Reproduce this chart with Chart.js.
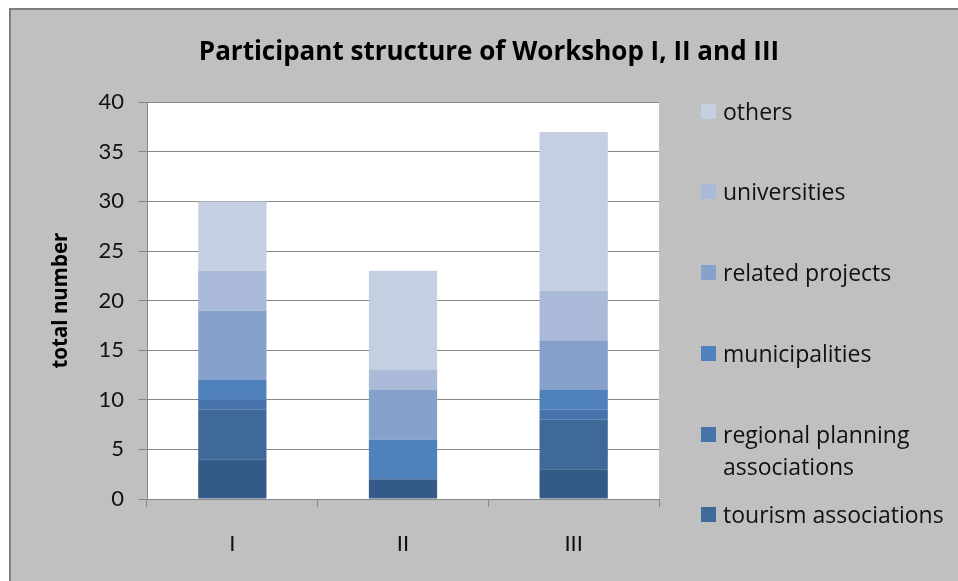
<!DOCTYPE html>
<html>
<head>
<meta charset="utf-8">
<script src="https://cdn.jsdelivr.net/npm/chart.js@4"></script>
<style>
  body { margin: 0; background: #fff; }
  #frame { position: absolute; left: 9px; top: 8px; width: 949px; height: 573px; background: #c0c0c0;
           border-left: 2px solid #7f7f7f; border-top: 2px solid #7f7f7f; box-sizing: border-box; }
  #wrap { position: absolute; left: 0; top: 0; width: 958px; height: 581px; }
  #legend { position: absolute; left: 0; top: 0; font-family: 'Open Sans', sans-serif; font-size: 23px; color: #111; }
  .item { position: absolute; left: 723px; width: 232px; line-height: 32px; }
  .sw { position: absolute; left: -22px; top: 9px; width: 15px; height: 15px; }
</style>
</head>
<body>
<div id="frame"></div>
<div id="wrap"><canvas id="chart" width="958" height="581"></canvas></div>
<div id="legend"></div>
<script>
const categories = ['I', 'II', 'III'];
const seriesNames = ['(not in legend)', 'tourism associations', 'regional planning associations',
                     'municipalities', 'related projects', 'universities', 'others'];
const notInLegend = [4, 2, 3];
const tourism = [5, 0, 5];
const regionalPlanning = [1, 0, 1];
const municipalities = [2, 4, 2];
const relatedProjects = [7, 5, 5];
const universities = [4, 2, 5];
const others = [7, 10, 16];
const yTicks = [0, 5, 10, 15, 20, 25, 30, 35, 40];

const seriesValues = [notInLegend, tourism, regionalPlanning, municipalities, relatedProjects, universities, others];
const seriesColors = ['#345a88', '#3e6999', '#4673aa', '#4f81bd', '#86a1cb', '#aabad8', '#c4d0e2'];

// legend line-1 centres, top item first
const legendY = [111, 191, 272, 353, 434, 514];

const font = { family: 'Lato', size: 22 };
const gridColor = '#888';

const plotBg = {
  id: 'plotBg',
  beforeDraw(chart) {
    const a = chart.chartArea;
    chart.ctx.save();
    chart.ctx.fillStyle = '#fff';
    chart.ctx.fillRect(a.left, a.top, a.right - a.left, a.bottom - a.top);
    chart.ctx.restore();
  }
};

const chart = new Chart(document.getElementById('chart'), {
  type: 'bar',
  data: {
    labels: categories,
    datasets: seriesValues.map((vals, i) => ({
      label: seriesNames[i],
      data: vals,
      backgroundColor: seriesColors[i],
      borderWidth: 0,
      categoryPercentage: 1,
      barPercentage: 0.4
    }))
  },
  options: {
    responsive: false,
    animation: false,
    layout: { padding: { left: 20 } },
    plugins: {
      legend: { display: false },
      tooltip: { enabled: false },
      title: {
        display: true,
        text: 'Participant structure of Workshop I, II and III',
        color: '#000',
        font: { family: 'Open Sans', size: 26, weight: 'bold' },
        padding: { top: 37, bottom: 34 }
      }
    },
    scales: {
      x: {
        stacked: true,
        offset: true,
        grid: { display: true, offset: true, drawOnChartArea: false, tickLength: 8, color: gridColor },
        border: { color: gridColor },
        ticks: { font: font, color: '#111', padding: 24 },
        afterFit: s => { s.height = 82; }
      },
      y: {
        stacked: true,
        min: 0,
        max: 40,
        afterBuildTicks: s => { s.ticks = yTicks.map(v => ({ value: v })); },
        grid: { color: gridColor, tickLength: 9 },
        border: { color: gridColor },
        ticks: { font: font, color: '#111', padding: 14 },
        title: {
          display: true,
          text: 'total number',
          color: '#000',
          font: { family: 'Open Sans', size: 20.5, weight: 'bold' },
          padding: { top: 29 }
        },
        afterFit: s => { s.width = 127; }
      },
      yRight: {
        type: 'linear',
        position: 'right',
        grid: { display: false },
        border: { display: false },
        ticks: { display: false },
        afterFit: s => { s.width = 299; }
      }
    }
  },
  plugins: [plotBg]
});

// legend, top series first, without the unnamed bottom series
const legendEl = document.getElementById('legend');
const shown = chart.data.datasets.slice(1).reverse();
shown.forEach((ds, i) => {
  const item = document.createElement('div');
  item.className = 'item';
  item.style.top = (legendY[i] - 16) + 'px';
  const sw = document.createElement('div');
  sw.className = 'sw';
  sw.style.background = ds.backgroundColor;
  item.appendChild(sw);
  item.appendChild(document.createTextNode(ds.label));
  legendEl.appendChild(item);
});
</script>
</body>
</html>
